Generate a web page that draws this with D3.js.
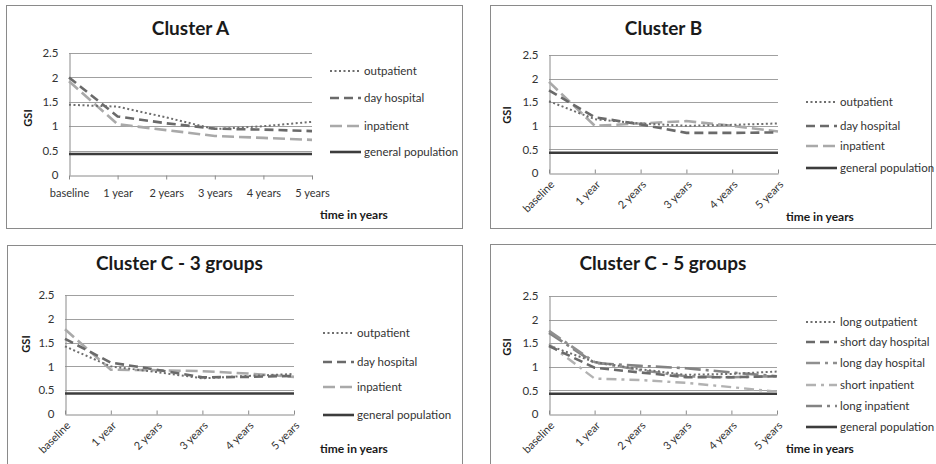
<!DOCTYPE html>
<html>
<head>
<meta charset="utf-8">
<script src="https://cdn.jsdelivr.net/npm/d3@7"></script>
<style>
  body { margin: 0; background: #fff; }
  svg { display: block; font-family: Lato, sans-serif; }
</style>
</head>
<body>
<svg id="chart" width="936" height="464"></svg>
<script>
var years = ["baseline", "1 year", "2 years", "3 years", "4 years", "5 years"];
var yTicks = [0, 0.5, 1, 1.5, 2, 2.5];

// Cluster A
var aOutpatient = [1.44, 1.4, 1.18, 0.94, 1.0, 1.09];
var aDayHospital = [2.0, 1.2, 1.06, 0.95, 0.93, 0.9];
var aInpatient = [1.92, 1.04, 0.92, 0.8, 0.76, 0.72];
// Cluster B
var bOutpatient = [1.52, 1.14, 1.05, 1.0, 1.02, 1.05];
var bDayHospital = [1.75, 1.18, 1.03, 0.85, 0.85, 0.86];
var bInpatient = [1.93, 1.0, 1.05, 1.1, 1.0, 0.88];
// Cluster C - 3 groups
var c3Outpatient = [1.42, 1.0, 0.88, 0.75, 0.8, 0.84];
var c3DayHospital = [1.58, 1.08, 0.93, 0.77, 0.78, 0.8];
var c3Inpatient = [1.78, 0.93, 0.92, 0.9, 0.85, 0.78];
// Cluster C - 5 groups
var c5LongOutpatient = [1.45, 1.1, 0.95, 0.83, 0.85, 0.9];
var c5ShortDayHospital = [1.44, 0.98, 0.88, 0.78, 0.78, 0.8];
var c5LongDayHospital = [1.76, 1.1, 0.93, 0.8, 0.78, 0.8];
var c5ShortInpatient = [1.48, 0.75, 0.72, 0.66, 0.57, 0.47];
var c5LongInpatient = [1.72, 1.08, 1.02, 0.97, 0.88, 0.8];
// general population reference
var generalPopulation = [0.43, 0.43, 0.43, 0.43, 0.43, 0.43];

var styles = {
  dot:    { stroke: "#6e6e6e", dash: "2,2.5", width: 2 },
  dash:   { stroke: "#6a6a6a", dash: "9,5", width: 2.6 },
  lng:    { stroke: "#a9a9a9", dash: "12,5", width: 2.6 },
  lngMid: { stroke: "#8f8f8f", dash: "14,5,3,5", width: 2.6 },
  dashDot:{ stroke: "#b2b2b2", dash: "10,5,3,5", width: 2.4 },
  lngDot: { stroke: "#838383", dash: "16,5,3,5", width: 2.6 },
  solid:  { stroke: "#3c3c3c", dash: null, width: 2.6 }
};

var panels = [
  { title: "Cluster A", border: [6, 5, 456, 223], titleY: 35,
    plot: [69, 53, 312, 175], rotate: false,
    gsi: [32, 118], time: [320, 219],
    legend: { x: 330, ys: [71, 98, 126, 152] },
    series: [
      { name: "outpatient", values: aOutpatient, s: "dot" },
      { name: "day hospital", values: aDayHospital, s: "dash" },
      { name: "inpatient", values: aInpatient, s: "lng" },
      { name: "general population", values: generalPopulation, s: "solid" }
    ] },
  { title: "Cluster B", border: [490, 5, 441, 223], titleY: 35,
    plot: [549, 55, 778, 173], rotate: true,
    gsi: [511, 115], time: [786, 221],
    legend: { x: 806, ys: [102, 126, 146, 168] },
    series: [
      { name: "outpatient", values: bOutpatient, s: "dot" },
      { name: "day hospital", values: bDayHospital, s: "dash" },
      { name: "inpatient", values: bInpatient, s: "lng" },
      { name: "general population", values: generalPopulation, s: "solid" }
    ] },
  { title: "Cluster C - 3 groups", border: [7, 245, 455, 230], titleY: 270,
    plot: [65, 295, 294, 414], rotate: true,
    gsi: [30, 344], time: [320, 453],
    legend: { x: 323, ys: [333, 362, 387, 415] },
    series: [
      { name: "outpatient", values: c3Outpatient, s: "dot" },
      { name: "day hospital", values: c3DayHospital, s: "dash" },
      { name: "inpatient", values: c3Inpatient, s: "lng" },
      { name: "general population", values: generalPopulation, s: "solid" }
    ] },
  { title: "Cluster C - 5 groups", border: [490, 244, 460, 230], titleY: 270,
    plot: [549, 296, 777, 414], rotate: true,
    gsi: [511, 347], time: [786, 453],
    legend: { x: 806, ys: [322, 342, 363, 385, 406, 427] },
    series: [
      { name: "long outpatient", values: c5LongOutpatient, s: "dot" },
      { name: "short day hospital", values: c5ShortDayHospital, s: "dash" },
      { name: "long day hospital", values: c5LongDayHospital, s: "lngMid" },
      { name: "short inpatient", values: c5ShortInpatient, s: "dashDot" },
      { name: "long inpatient", values: c5LongInpatient, s: "lngDot" },
      { name: "general population", values: generalPopulation, s: "solid" }
    ] }
];

var svg = d3.select("#chart");

panels.forEach(function (p) {
  var g = svg.append("g");
  var b = p.border;
  g.append("rect")
    .attr("x", b[0] + 0.5).attr("y", b[1] + 0.5)
    .attr("width", b[2]).attr("height", b[3])
    .attr("fill", "#fff").attr("stroke", "#8a8a8a").attr("stroke-width", 1);

  var x0 = p.plot[0], y0 = p.plot[1], x1 = p.plot[2], y1 = p.plot[3];

  g.append("text")
    .attr("x", (x0 + x1) / 2).attr("y", p.titleY)
    .attr("text-anchor", "middle")
    .attr("font-size", 19).attr("font-weight", "bold").attr("fill", "#1a1a1a")
    .text(p.title);

  var x = d3.scalePoint().domain(years).range([x0, x1]);
  var y = d3.scaleLinear().domain([0, 2.5]).range([y1, y0]);

  // gridlines
  g.append("g").selectAll("line")
    .data(yTicks.filter(function (d) { return d > 0; }))
    .enter().append("line")
    .attr("x1", x0).attr("x2", x1)
    .attr("y1", function (d) { return Math.round(y(d)) + 0.5; })
    .attr("y2", function (d) { return Math.round(y(d)) + 0.5; })
    .attr("stroke", "#a0a0a0").attr("stroke-width", 1);

  // y axis
  var yAxis = g.append("g")
    .attr("transform", "translate(" + (x0 + 0.5) + ",0)")
    .call(d3.axisLeft(y).tickValues(yTicks).tickSize(0).tickPadding(11)
      .tickFormat(function (d) { return d; }));
  yAxis.select(".domain").attr("stroke", "#8a8a8a");
  yAxis.selectAll("text").attr("font-size", 11.5).attr("fill", "#333")
    .attr("font-family", "Lato, sans-serif");

  // x axis
  var xAxis = g.append("g")
    .attr("transform", "translate(0," + (Math.round(y1) + 0.5) + ")")
    .call(d3.axisBottom(x).tickSize(p.rotate ? -4 : 4).tickSizeOuter(0).tickPadding(8));
  xAxis.select(".domain").attr("stroke", "#8a8a8a");
  xAxis.selectAll("line").attr("stroke", "#8a8a8a");
  xAxis.selectAll("text").attr("font-size", 11).attr("fill", "#333")
    .attr("font-family", "Lato, sans-serif");
  if (p.rotate) {
    xAxis.selectAll("text")
      .attr("text-anchor", "end")
      .attr("x", 0).attr("y", 0).attr("dy", "0.35em")
      .attr("transform", "translate(3,9) rotate(-45)");
  } else {
    xAxis.selectAll("text").attr("dy", "0.9em");
  }

  // axis titles
  g.append("text")
    .attr("transform", "translate(" + p.gsi[0] + "," + p.gsi[1] + ") rotate(-90)")
    .attr("text-anchor", "middle")
    .attr("font-size", 11).attr("font-weight", "bold").attr("fill", "#1a1a1a")
    .text("GSI");
  g.append("text")
    .attr("x", p.time[0]).attr("y", p.time[1])
    .attr("font-size", 12).attr("font-weight", "bold").attr("fill", "#1a1a1a")
    .text("time in years");

  // series lines
  var line = d3.line()
    .x(function (d, i) { return x(years[i]); })
    .y(function (d) { return y(d); });

  p.series.slice().reverse().forEach(function (s) {
    var st = styles[s.s];
    g.append("path")
      .datum(s.values)
      .attr("d", line)
      .attr("fill", "none")
      .attr("stroke", st.stroke)
      .attr("stroke-width", st.width)
      .attr("stroke-dasharray", st.dash);
  });

  // legend
  var lg = g.append("g").selectAll("g")
    .data(p.series).enter().append("g")
    .attr("transform", function (d, i) {
      return "translate(" + p.legend.x + "," + p.legend.ys[i] + ")";
    });
  lg.append("line")
    .attr("x1", 0).attr("x2", 31).attr("y1", 0).attr("y2", 0)
    .attr("stroke", function (d) { return styles[d.s].stroke; })
    .attr("stroke-width", function (d) { return styles[d.s].width; })
    .attr("stroke-dasharray", function (d) { return styles[d.s].dash; });
  lg.append("text")
    .attr("x", 34).attr("y", 0).attr("dy", "0.35em")
    .attr("font-size", 11.5).attr("fill", "#333")
    .text(function (d) { return d.name; });
});
</script>
</body>
</html>
